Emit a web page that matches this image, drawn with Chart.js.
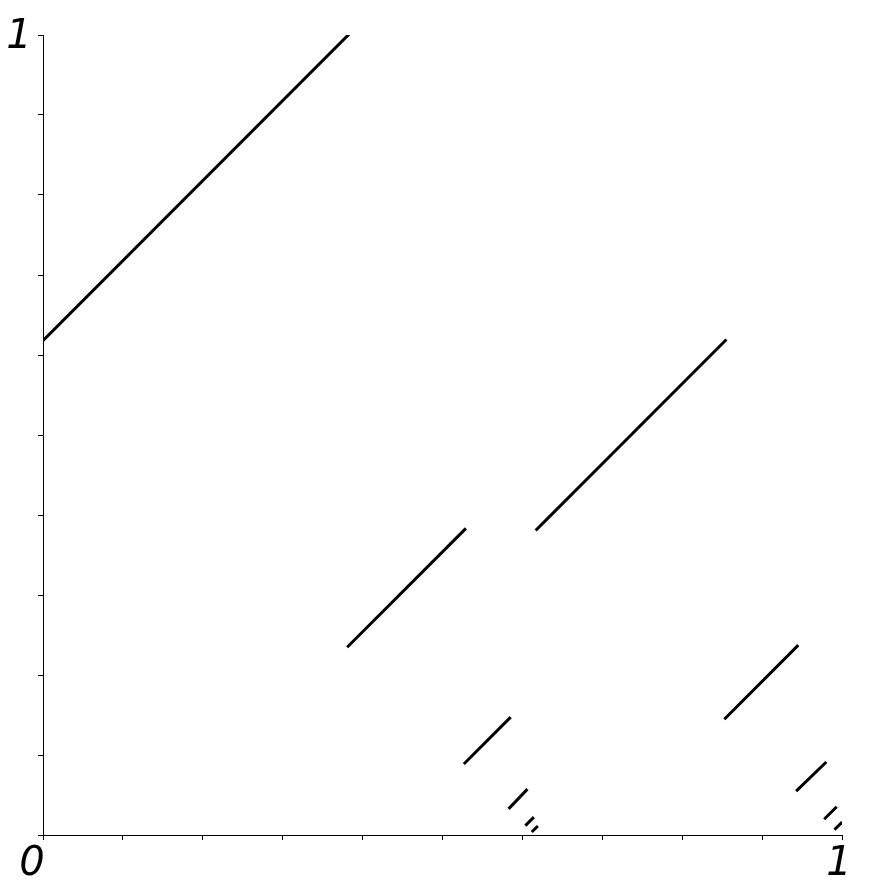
<!DOCTYPE html>
<html>
<head>
<meta charset="utf-8">
<script src="https://cdn.jsdelivr.net/npm/chart.js@4"></script>
<style>
html,body{margin:0;padding:0;background:#fff;}
#wrap{width:882px;height:894px;position:relative;}
</style>
</head>
<body>
<div id="wrap"><canvas id="c" width="882" height="894"></canvas></div>
<script>
// Segment endpoints (x from start to end, y from start to end)
const segStartX = [0.000, 0.382, 0.618, 0.528, 0.854, 0.584, 0.944, 0.605, 0.979, 0.613, 0.992];
const segEndX   = [0.382, 0.528, 0.854, 0.584, 0.944, 0.605, 0.979, 0.613, 0.992, 0.618, 0.999];
const segStartY = [0.618, 0.236, 0.382, 0.090, 0.146, 0.034, 0.056, 0.013, 0.021, 0.005, 0.008];
const segEndY   = [1.000, 0.382, 0.618, 0.146, 0.236, 0.056, 0.090, 0.021, 0.034, 0.010, 0.015];
const axisLabels = ["0", "1", "1"]; // x-origin, x-end, y-end
const tickStep = 0.1;

const datasets = segStartX.map((x0, i) => ({
  data: [{x: x0, y: segStartY[i]}, {x: segEndX[i], y: segEndY[i]}],
  borderColor: '#000',
  borderWidth: 3,
  borderCapStyle: 'square',
  pointRadius: 0,
  showLine: true,
  fill: false
}));

const labelPlugin = {
  id: 'cornerLabels',
  afterDraw(chart) {
    const {ctx, scales: {x, y}} = chart;
    ctx.save();
    ctx.fillStyle = '#000';
    ctx.font = 'italic 40px "DejaVu Sans"';
    ctx.textBaseline = 'middle';
    ctx.textAlign = 'center';
    ctx.fillText(axisLabels[0], x.getPixelForValue(0) - 11, y.getPixelForValue(0) + 30);
    ctx.fillText(axisLabels[1], x.getPixelForValue(1) - 3, y.getPixelForValue(0) + 30);
    ctx.fillText(axisLabels[2], x.getPixelForValue(0) - 24, y.getPixelForValue(1) + 3);
    ctx.restore();
  }
};

new Chart(document.getElementById('c'), {
  type: 'scatter',
  data: { datasets },
  options: {
    responsive: false,
    animation: false,
    devicePixelRatio: 1,
    layout: { padding: { left: 0, right: 40, top: 35, bottom: 0 } },
    plugins: { legend: { display: false }, tooltip: { enabled: false } },
    scales: {
      x: {
        type: 'linear', min: 0, max: 1,
        ticks: { display: false, stepSize: tickStep },
        grid: { drawOnChartArea: false, tickLength: 5, color: '#000', lineWidth: 1 },
        border: { color: '#000', width: 1 },
        afterFit(s) { s.height = 59; }
      },
      y: {
        type: 'linear', min: 0, max: 1,
        ticks: { display: false, stepSize: tickStep },
        grid: { drawOnChartArea: false, tickLength: 5, color: '#000', lineWidth: 1 },
        border: { color: '#000', width: 1 },
        afterFit(s) { s.width = 43; }
      }
    }
  },
  plugins: [labelPlugin]
});
</script>
</body>
</html>
